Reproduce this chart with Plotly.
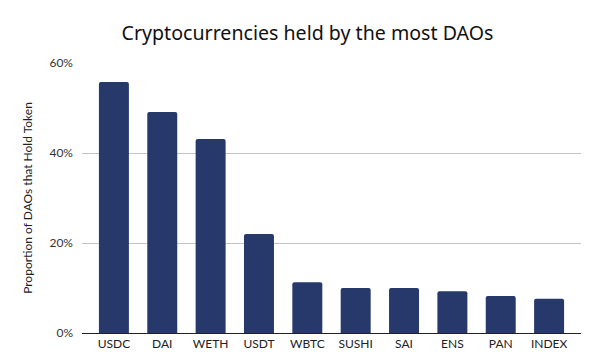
import plotly.graph_objects as go

tokens = ["USDC", "DAI", "WETH", "USDT", "WBTC", "SUSHI", "SAI", "ENS", "PAN", "INDEX"]
share = [0.558, 0.491, 0.431, 0.220, 0.113, 0.100, 0.100, 0.093, 0.082, 0.076]
y_ticks = [0, 0.2, 0.4, 0.6]
y_tick_labels = ["0%", "20%", "40%", "60%"]

fig = go.Figure(go.Bar(
    x=tokens, y=share, marker_color="#27386b", width=0.62,
    marker_line_width=0,
))
fig.update_layout(
    width=597, height=355,
    margin=dict(l=82, r=16, t=63, b=22, autoexpand=False),
    paper_bgcolor="white", plot_bgcolor="white",
    barcornerradius=2,
    title=dict(text="Cryptocurrencies held by the most DAOs", x=307.5 / 597, xanchor="center",
               y=1 - 33 / 355, yanchor="middle", yref="container",
               font=dict(family="Noto Sans", size=19.6, color="#111")),
    font=dict(family="Lato", size=12, color="#333"),
    showlegend=False,
)
fig.update_xaxes(range=[-0.66, 9.66], showline=True, linecolor="#222", linewidth=1,
                 ticks="", tickfont=dict(size=12, color="#222"), showgrid=False)
fig.update_yaxes(range=[0, 0.6], tickvals=y_ticks, ticktext=y_tick_labels,
                 showgrid=True, gridcolor="#c4c4c4", gridwidth=1, zeroline=False,
                 ticks="", ticklabelstandoff=8,
                 title=dict(text="Proportion of DAOs that Hold Token", standoff=14,
                            font=dict(size=12, color="#222")))
fig.write_html("out.html", config={"displayModeBar": False},
               post_script="document.body.style.margin='0';document.body.style.overflow='hidden';")
